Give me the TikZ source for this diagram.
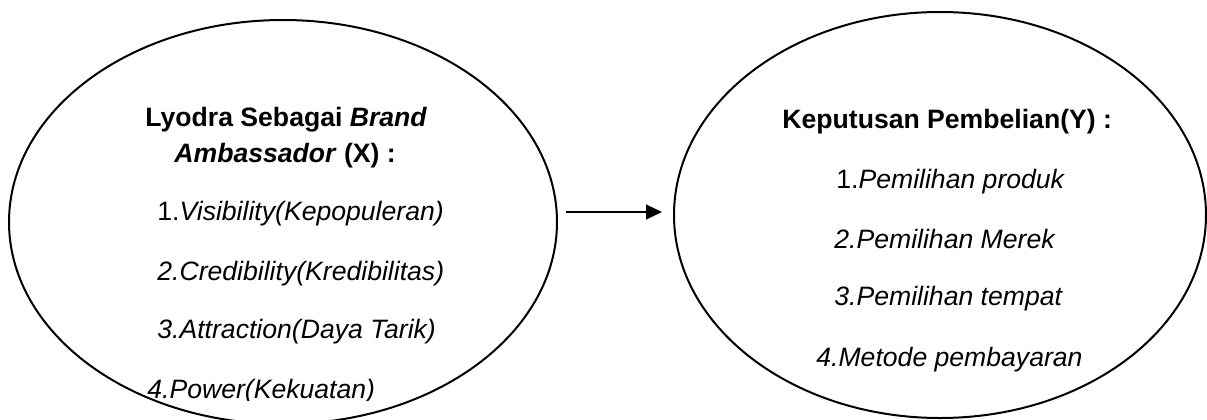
\documentclass[tikz,border=0pt]{standalone}
\usepackage{fontspec}
\setmainfont{Liberation Sans}
\usetikzlibrary{arrows.meta,shapes.geometric,positioning}
\tikzset{
  >={Triangle[length=8pt, width=7.5pt]},
  var/.style={draw, ellipse, line width=1pt, inner sep=0pt},
  head/.style={anchor=base west, inner sep=0pt, font=\fontsize{13.3}{16}\selectfont\bfseries},
  item/.style={anchor=base west, inner sep=0pt, font=\fontsize{13.3}{16}\selectfont},
  flow/.style={->, line width=0.6pt},
}

\begin{document}
\begin{tikzpicture}[x=0.5pt, y=-0.5pt]
        \useasboundingbox (0,0) rectangle (1207,419);
        % the two variables
        \node[var, minimum width=274pt, minimum height=202pt] (ex) at (283,222) {};
        \node[var, minimum width=266pt, minimum height=203pt] (ey) at (940,215) {};
        % X
        \node[head] (x0) at (145,126) {Lyodra Sebagai \textit{Brand}};
        \node[head] (x1) at (174,162) {\textit{Ambassador} (X) :};
        \node[item] (x2) at (157,220) {1.\textit{Visibility(Kepopuleran)}};
        \node[item] (x3) at (157,280) {\textit{2.Credibility(Kredibilitas)}};
        \node[item] (x4) at (157,338) {\textit{3.Attraction(Daya Tarik)}};
        \begin{scope}
          \clip (0,0) rectangle (560,400);
          \node[item] (x5) at (147,398) {\textit{4.Power(Kekuatan)}};
        \end{scope}
        % Y
        \node[head] (y0) at (782,128) {Keputusan Pembelian(Y) :};
        \node[item] (y1) at (836,188) {1.\textit{Pemilihan produk}};
        \foreach \i/\x/\y/\t in {2/834/248/Pemilihan Merek,3/834/305/Pemilihan tempat,4/816/366/Metode pembayaran}{
          \node[item] (y\i) at (\x,\y) {\textit{\i.\t}};}
        % X -> Y
        \draw[flow] ([shift={(8,-10)}]ex.east) -- ([shift={(-11,-3)}]ey.west);
      \end{tikzpicture}
\end{document}
